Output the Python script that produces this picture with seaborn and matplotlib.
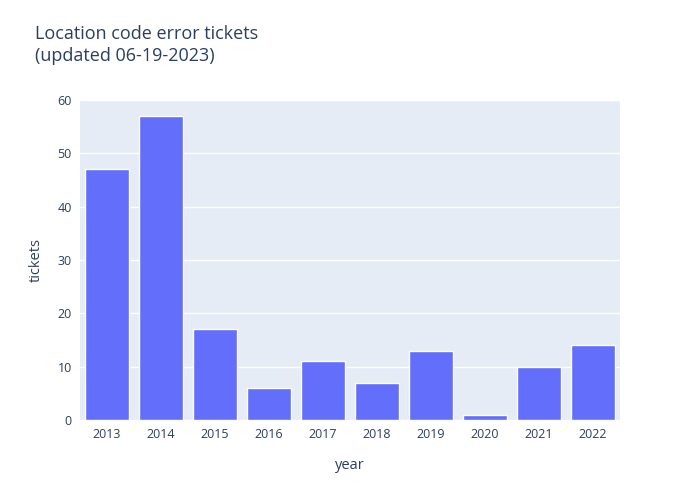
import matplotlib
matplotlib.use("Agg")
import matplotlib.pyplot as plt
import seaborn as sns
import pandas as pd

years = ["2013", "2014", "2015", "2016", "2017", "2018", "2019", "2020", "2021", "2022"]
tickets = [47, 57, 17, 6, 11, 7, 13, 1, 10, 14]

df = pd.DataFrame({"year": years, "tickets": tickets})

sns.set_style("white")
plt.rcParams['font.family'] = ['Open Sans', 'DejaVu Sans']

fig = plt.figure(figsize=(7, 5), dpi=100)
ax = fig.add_axes([80 / 700, 80 / 500, 540 / 700, 320 / 500])
ax.set_facecolor("#E5ECF6")
sns.barplot(data=df, x="year", y="tickets", color="#636EFA", saturation=1,
            width=0.8, ax=ax, zorder=3)
ax.set_ylim(0, 60)
ax.set_yticks(range(0, 61, 10))
ax.grid(axis="y", color="white", linewidth=1, zorder=0)
ax.set_axisbelow(True)
for s in ax.spines.values():
    s.set_visible(False)
ax.tick_params(length=0, labelsize=9, colors="#2a3f5f", pad=6)
ax.set_xlabel("year", fontsize=10.5, color="#2a3f5f", labelpad=12)
ax.set_ylabel("tickets", fontsize=10.5, color="#2a3f5f", labelpad=10)
fig.text(35 / 700, 1 - 45 / 500, "Location code error tickets\n(updated 06-19-2023)",
         fontsize=13, color="#2a3f5f", va="center", linespacing=1.3)
fig.savefig("out.png")
